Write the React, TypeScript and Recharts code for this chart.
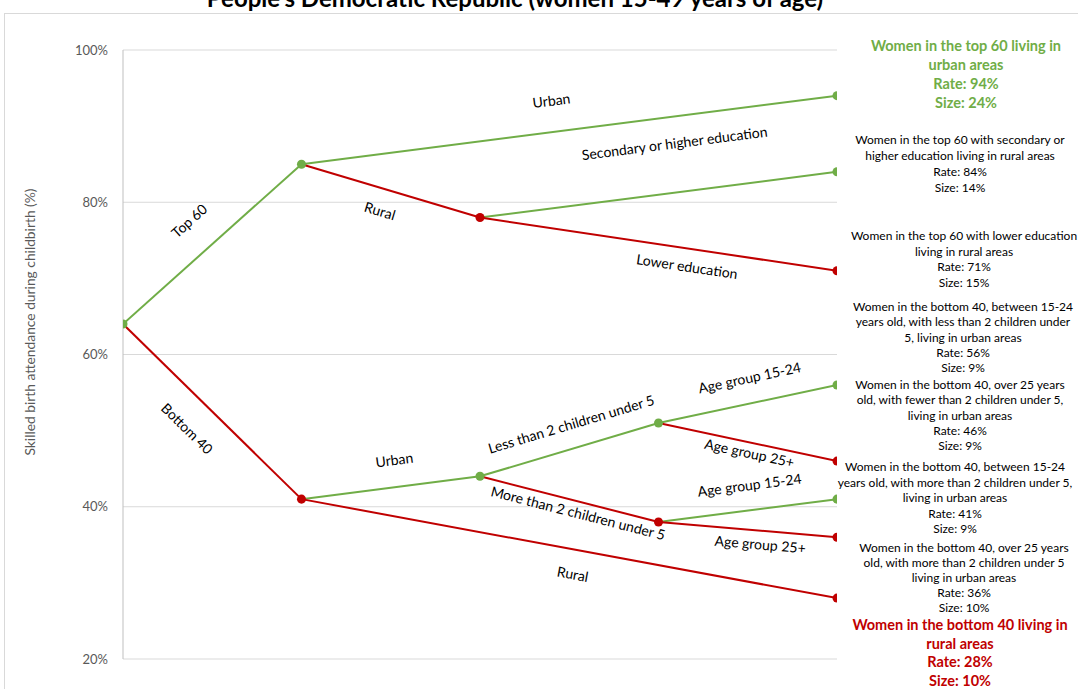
import React from 'react';
import { ComposedChart, Line, Scatter, XAxis, YAxis, CartesianGrid, Cell } from 'recharts';

// tree branches: start/end stage and skilled birth attendance rate (%)
const segLabels = [
  'Top 60', 'Urban', 'Rural', 'Secondary or higher education', 'Lower education',
  'Bottom 40', 'Urban', 'Less than 2 children under 5', 'Age group 15-24', 'Age group 25+',
  'More than 2 children under 5', 'Age group 15-24', 'Age group 25+', 'Rural',
];
const segX0 = [0, 1, 1, 2, 2, 0, 1, 2, 3, 3, 2, 3, 3, 1];
const segX1 = [1, 4, 2, 4, 4, 1, 2, 3, 4, 4, 3, 4, 4, 4];
const segY0 = [64, 85, 85, 78, 78, 64, 41, 44, 51, 51, 44, 38, 38, 41];
const segY1 = [85, 94, 78, 84, 71, 41, 44, 51, 56, 46, 38, 41, 36, 28];
const segHigh = [true, true, false, true, false, false, true, true, true, false, false, true, false, false];

// branch nodes
const nodeX = [0, 1, 1, 2, 2, 3, 3, 4, 4, 4, 4, 4, 4, 4, 4];
const nodeY = [64, 85, 41, 78, 44, 51, 38, 94, 84, 71, 56, 46, 41, 36, 28];
const nodeHigh = [true, true, false, false, true, true, false, true, true, false, true, false, true, false, false];

// where each branch label sits (data units)
const labelX = [0.37, 2.4, 1.44, 3.09, 3.16, 0.36, 1.52, 2.51, 3.51, 3.51, 2.55, 3.51, 3.57, 2.52];
const labelY = [77.6, 93.4, 78.9, 87.8, 71.6, 50.3, 46.2, 50.9, 57.0, 47.1, 39.2, 42.9, 35.1, 31.2];

const yTicks = [20, 40, 60, 80, 100];

const GREEN = '#70ad47';
const RED = '#c00000';
const FONT = 'Lato, "Noto Sans", sans-serif';

const PLOT_W = 714;
const PLOT_H = 609;
const pxPerX = PLOT_W / 4;
const pxPerY = PLOT_H / 80;

const notes = [
  { top: 36, lh: 19, size: 14.5, bold: true, color: GREEN, cx: 966,
    lines: ['Women in the top 60 living in', 'urban areas', 'Rate: 94%', 'Size: 24%'] },
  { top: 132, lh: 16, size: 12, bold: false, color: '#000', cx: 960,
    lines: ['Women in the top 60 with secondary or', 'higher education living in rural areas', 'Rate: 84%', 'Size: 14%'] },
  { top: 228, lh: 15.5, size: 12, bold: false, color: '#000', cx: 964,
    lines: ['Women in the top 60 with lower education', 'living in rural areas', 'Rate: 71%', 'Size: 15%'] },
  { top: 299, lh: 15.3, size: 12, bold: false, color: '#000', cx: 963,
    lines: ['Women in the bottom 40, between 15-24', 'years old, with less than 2 children under', '5, living in urban areas', 'Rate: 56%', 'Size: 9%'] },
  { top: 377, lh: 15.3, size: 12, bold: false, color: '#000', cx: 960,
    lines: ['Women in the bottom 40, over 25 years', 'old, with fewer than 2 children under 5,', 'living in urban areas', 'Rate: 46%', 'Size: 9%'] },
  { top: 459, lh: 15.5, size: 12, bold: false, color: '#000', cx: 955,
    lines: ['Women in the bottom 40, between 15-24', 'years old, with more than 2 children under 5,', 'living in urban areas', 'Rate: 41%', 'Size: 9%'] },
  { top: 540, lh: 15, size: 12, bold: false, color: '#000', cx: 964,
    lines: ['Women in the bottom 40, over 25 years', 'old, with more than 2 children under 5', 'living in urban areas', 'Rate: 36%', 'Size: 10%'] },
  { top: 616, lh: 18.5, size: 14.5, bold: true, color: RED, cx: 960,
    lines: ['Women in the bottom 40 living in', 'rural areas', 'Rate: 28%', 'Size: 10%'] },
];

const App: React.FC = () => {
  const nodes = nodeX.map((x, i) => ({ x, y: nodeY[i], high: nodeHigh[i] }));
  const labels = segLabels.map((text, i) => {
    const dx = (segX1[i] - segX0[i]) * pxPerX;
    const dy = (segY1[i] - segY0[i]) * pxPerY;
    const angle = (-Math.atan2(dy, dx) * 180) / Math.PI;
    return { x: labelX[i], y: labelY[i], text, angle };
  });

  return (
    <div style={{ position: 'absolute', left: 0, top: 0, width: 1078, height: 689, overflow: 'hidden', background: '#fff', fontFamily: FONT }}>
      <div style={{ position: 'absolute', left: 4, top: 13, width: 1200, height: 800, border: '1px solid #d9d9d9' }} />
      <div style={{ position: 'absolute', left: 0, top: -14, width: 1030, textAlign: 'center', fontSize: 24, fontWeight: 700, lineHeight: '24px', color: '#000' }}>
        People's Democratic Republic (women 15-49 years of age)
      </div>

      <div style={{ position: 'absolute', left: 0, top: 0 }}>
        <ComposedChart width={1078} height={689} margin={{ top: 50, right: 241, bottom: 30, left: 0 }}>
          <CartesianGrid vertical={false} stroke="#d9d9d9" />
          <XAxis type="number" dataKey="x" domain={[0, 4]} hide allowDataOverflow />
          <YAxis
            type="number"
            dataKey="y"
            domain={[20, 100]}
            ticks={yTicks}
            width={123}
            tickLine={false}
            axisLine={{ stroke: '#bfbfbf' }}
            tickMargin={9}
            tickFormatter={(v) => `${v}%`}
            tick={{ fontSize: 13, fill: '#595959', fontFamily: FONT }}
          />
          {segLabels.map((name, i) => (
            <Line
              key={`seg-${i}`}
              data={[{ x: segX0[i], y: segY0[i] }, { x: segX1[i], y: segY1[i] }]}
              dataKey="y"
              name={name}
              stroke={segHigh[i] ? GREEN : RED}
              strokeWidth={2}
              dot={false}
              activeDot={false}
              isAnimationActive={false}
            />
          ))}
          <Scatter data={nodes} dataKey="y" isAnimationActive={false} shape="circle">
            {nodes.map((n, i) => (
              <Cell key={`n-${i}`} fill={n.high ? GREEN : RED} />
            ))}
          </Scatter>
          <Scatter
            data={labels}
            dataKey="y"
            isAnimationActive={false}
            shape={(p: any) => (
              <text
                x={p.cx}
                y={p.cy}
                textAnchor="middle"
                dominantBaseline="central"
                fontSize={14}
                fontFamily={FONT}
                fill="#000"
                transform={`rotate(${p.payload.angle}, ${p.cx}, ${p.cy})`}
              >
                {p.payload.text}
              </text>
            )}
          />
        </ComposedChart>
      </div>

      <div
        style={{
          position: 'absolute',
          left: 30 - 200,
          top: 322 - 9,
          width: 400,
          height: 18,
          lineHeight: '18px',
          textAlign: 'center',
          fontSize: 13.8,
          color: '#595959',
          transform: 'rotate(-90deg)',
          transformOrigin: '200px 9px',
          whiteSpace: 'nowrap',
        }}
      >
        Skilled birth attendance during childbirth (%)
      </div>

      {notes.map((n, i) => (
        <div
          key={`note-${i}`}
          style={{
            position: 'absolute',
            left: n.cx - 150,
            top: n.top,
            width: 300,
            textAlign: 'center',
            fontSize: n.size,
            fontWeight: n.bold ? 700 : 400,
            lineHeight: `${n.lh}px`,
            color: n.color,
            whiteSpace: 'nowrap',
          }}
        >
          {n.lines.map((l, j) => (
            <div key={j}>{l}</div>
          ))}
        </div>
      ))}
    </div>
  );
};

export default App;
